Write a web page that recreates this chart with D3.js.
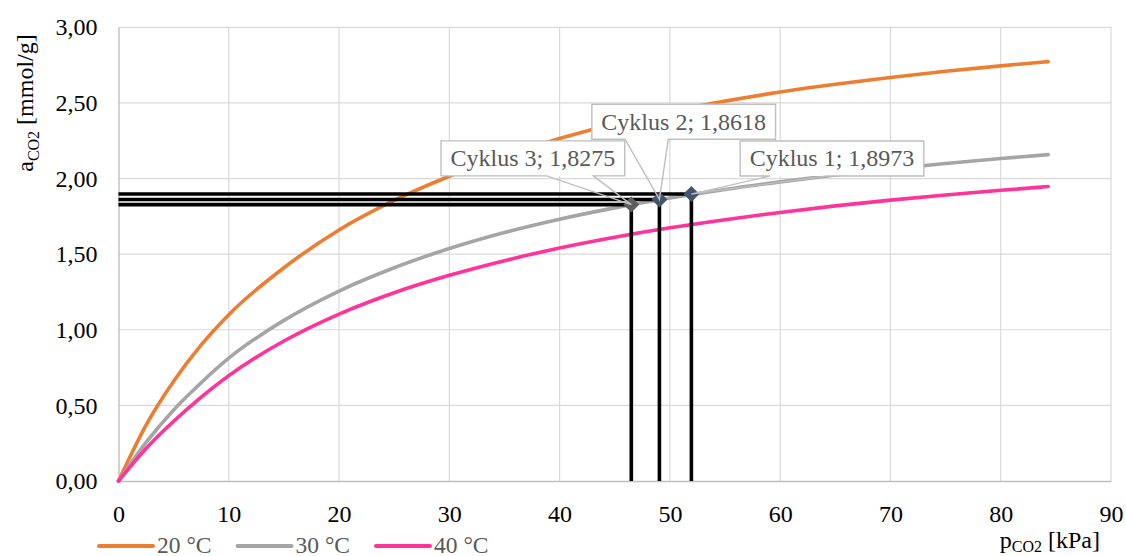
<!DOCTYPE html>
<html>
<head>
<meta charset="utf-8">
<script src="https://cdn.jsdelivr.net/npm/d3@7"></script>
<style>
  html, body { margin: 0; padding: 0; background: #fff; }
  svg { display: block; font-family: "Liberation Serif", "Times New Roman", serif; }
</style>
</head>
<body>
<svg id="chart" width="1126" height="556"></svg>
<script>
// CO2 adsorption isotherms, partial pressure in kPa vs. loading in mmol/g
const pressure = [0, 2.5, 5, 7.5, 10, 15, 20, 25, 30, 35, 40, 45, 50, 55, 60, 65, 70, 75, 80, 84.3];
const iso20 = [0, 0.37, 0.66, 0.90, 1.10, 1.41, 1.66, 1.855, 2.015, 2.15, 2.265, 2.363, 2.445, 2.512, 2.572, 2.623, 2.668, 2.709, 2.745, 2.773];
const iso30 = [0, 0.255, 0.47, 0.65, 0.812, 1.062, 1.256, 1.41, 1.537, 1.643, 1.731, 1.806, 1.871, 1.928, 1.978, 2.023, 2.063, 2.099, 2.132, 2.158];
const iso40 = [0, 0.215, 0.395, 0.555, 0.697, 0.926, 1.104, 1.245, 1.36, 1.457, 1.541, 1.612, 1.674, 1.728, 1.776, 1.819, 1.857, 1.891, 1.922, 1.947];

const seriesNames = ["20 °C", "30 °C", "40 °C"];
const seriesColors = ["#ED7D31", "#A5A5A5", "#FF3399"];

// measured cycles
const cycleNames = ["Cyklus 1", "Cyklus 2", "Cyklus 3"];
const cyclePressure = [51.95, 49.05, 46.5];
const cycleLoading = [1.8973, 1.8618, 1.8275];
const cycleColors = ["#44546A", "#44546A", "#5E5E5E"];

const xTicks = [0, 10, 20, 30, 40, 50, 60, 70, 80, 90];
const yTicks = [0, 0.5, 1, 1.5, 2, 2.5, 3];

// callout placement: box centre offset from the point, wedge base relative to box centre
const calloutLayout = [
  { dx: 140.6, dy: -35.6, b0: -62, b1: -5 },
  { dx: 24.3, dy: -77.7, b0: -58.7, b1: -15.4 },
  { dx: -98.4, dy: -46.2, b0: 13.8, b1: 60.4 }
];

const svg = d3.select("#chart");
const x = d3.scaleLinear().domain([0, 90]).range([118.5, 1111]);
const y = d3.scaleLinear().domain([0, 3]).range([481, 27.3]);

const loc = d3.formatLocale({ decimal: ",", thousands: ".", grouping: [3], currency: ["", ""] });
const fmt2 = loc.format(".2f");
const fmt4 = loc.format(".4f");

// grid
const grid = svg.append("g");
grid.selectAll("line.h").data(yTicks.filter(d => d > 0)).join("line")
  .attr("x1", x(0)).attr("x2", x(90))
  .attr("y1", d => y(d)).attr("y2", d => y(d))
  .attr("stroke", "#D9D9D9").attr("stroke-width", 1.2);
grid.selectAll("line.v").data(xTicks.filter(d => d > 0)).join("line")
  .attr("x1", d => x(d)).attr("x2", d => x(d))
  .attr("y1", y(0)).attr("y2", y(3))
  .attr("stroke", "#D9D9D9").attr("stroke-width", 1.2);

// axes
const xAxis = svg.append("g").attr("transform", `translate(0,${y(0)})`)
  .call(d3.axisBottom(x).tickValues(xTicks).tickSize(0).tickPadding(24).tickFormat(d3.format("d")));
const yAxis = svg.append("g").attr("transform", `translate(${x(0)},0)`)
  .call(d3.axisLeft(y).tickValues(yTicks).tickSize(0).tickPadding(21).tickFormat(fmt2));
[xAxis, yAxis].forEach(g => {
  g.select(".domain").attr("stroke", "#BFBFBF").attr("stroke-width", 1.4);
  g.selectAll("text").attr("font-family", "Liberation Serif").attr("font-size", 24).attr("fill", "#000");
});
yAxis.selectAll("text").attr("dy", "0.32em");

// isotherms
const line = d3.line().x(d => x(d[0])).y(d => y(d[1])).curve(d3.curveMonotoneX);
[iso20, iso30, iso40].forEach((vals, i) => {
  svg.append("path")
    .datum(pressure.map((p, k) => [p, vals[k]]))
    .attr("d", line)
    .attr("fill", "none")
    .attr("stroke", seriesColors[i])
    .attr("stroke-width", 3.6)
    .attr("stroke-linecap", "round")
    .attr("stroke-linejoin", "round");
});

// drop lines from each cycle point to both axes
const cycles = cycleNames.map((n, i) => ({ name: n, p: cyclePressure[i], a: cycleLoading[i], color: cycleColors[i], lay: calloutLayout[i] }));
svg.append("g").selectAll("line").data(cycles).join("line")
  .attr("x1", x(0)).attr("x2", d => x(d.p))
  .attr("y1", d => y(d.a)).attr("y2", d => y(d.a))
  .attr("stroke", "#000").attr("stroke-width", 3.6);
svg.append("g").selectAll("line").data(cycles).join("line")
  .attr("x1", d => x(d.p)).attr("x2", d => x(d.p))
  .attr("y1", d => y(d.a)).attr("y2", y(0))
  .attr("stroke", "#000").attr("stroke-width", 3.6);

// markers
const diamond = d3.symbol().type(d3.symbolSquare).size(128);
svg.append("g").selectAll("path").data(cycles).join("path")
  .attr("d", diamond)
  .attr("transform", d => `translate(${x(d.p)},${y(d.a)}) rotate(45)`)
  .attr("fill", d => d.color);

// callouts
const boxH = 35;
const callouts = svg.append("g");
cycles.forEach(d => {
  const px = x(d.p), py = y(d.a);
  const cx = px + d.lay.dx, cy = py + d.lay.dy;
  const g = callouts.append("g");
  const t = g.append("text")
    .attr("x", cx).attr("y", cy)
    .attr("dy", "0.33em")
    .attr("text-anchor", "middle")
    .attr("font-family", "Liberation Serif")
    .attr("font-size", 24)
    .attr("fill", "#595959")
    .text(`${d.name}; ${fmt4(d.a)}`);
  const w = t.node().getComputedTextLength() + 19;
  const l = cx - w / 2, r = cx + w / 2, top = cy - boxH / 2, bot = cy + boxH / 2;
  g.insert("rect", "text")
    .attr("x", l).attr("y", top).attr("width", w).attr("height", boxH)
    .attr("fill", "#fff");
  const outline = `M${l},${top}H${r}V${bot}H${cx + d.lay.b1}L${px},${py}L${cx + d.lay.b0},${bot}H${l}Z`;
  g.insert("path", "text")
    .attr("d", outline)
    .attr("fill", "none")
    .attr("stroke", "#BFBFBF")
    .attr("stroke-width", 1.4);
});

// axis titles
const yTitle = svg.append("text")
  .attr("transform", "translate(33,103) rotate(-90)")
  .attr("text-anchor", "middle")
  .attr("font-size", 24).attr("fill", "#000");
yTitle.append("tspan").text("a");
yTitle.append("tspan").attr("font-size", 16).attr("dy", 6).text("CO2");
yTitle.append("tspan").attr("dy", -6).text(" [mmol/g]");

const xTitle = svg.append("text")
  .attr("x", 1100).attr("y", 548)
  .attr("text-anchor", "end")
  .attr("font-size", 24).attr("fill", "#000");
xTitle.append("tspan").text("p");
xTitle.append("tspan").attr("font-size", 16).attr("dy", 4).text("CO2");
xTitle.append("tspan").attr("dy", -4).text(" [kPa]");

// legend
const legendX = [99, 237.5, 376];
const legend = svg.append("g");
seriesNames.forEach((name, i) => {
  legend.append("line")
    .attr("x1", legendX[i]).attr("x2", legendX[i] + 54)
    .attr("y1", 546).attr("y2", 546)
    .attr("stroke", seriesColors[i]).attr("stroke-width", 4)
    .attr("stroke-linecap", "round");
  legend.append("text")
    .attr("x", legendX[i] + 58).attr("y", 552.5)
    .attr("font-size", 23.5).attr("fill", "#595959")
    .text(name);
});
</script>
</body>
</html>
